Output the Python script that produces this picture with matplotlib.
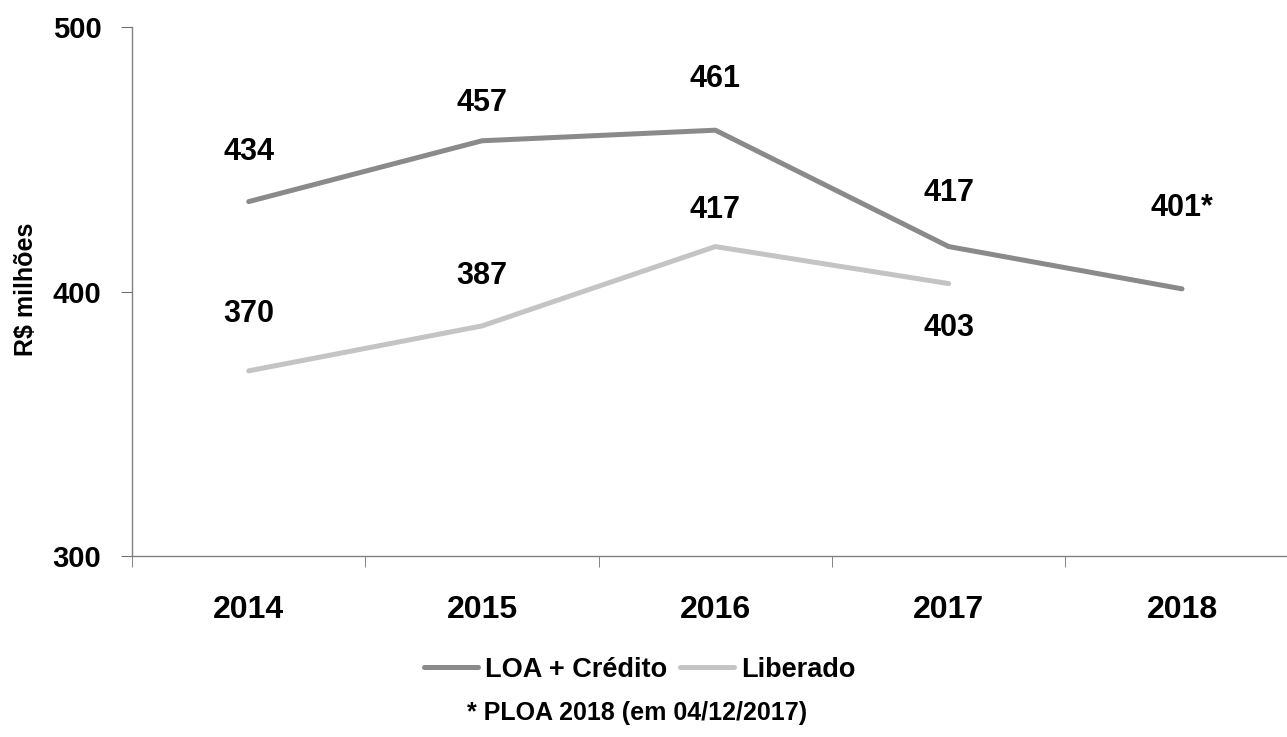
import matplotlib
matplotlib.use('Agg')
from matplotlib import pyplot as plt
from matplotlib.ticker import FixedLocator

# data
years = ['2014', '2015', '2016', '2017', '2018']
loaCredito = [434, 457, 461, 417, 401]
liberado = [370, 387, 417, 403]
loaLabels = ['434', '457', '461', '417', '401*']
libLabels = ['370', '387', '417', '403']

plt.rcParams['font.family'] = ['Liberation Sans Narrow', 'Liberation Sans', 'DejaVu Sans']
plt.rcParams['font.weight'] = 'bold'

fig = plt.figure(figsize=(12.87, 7.37), dpi=100)
ax = fig.add_axes([0.1026, 0.2456, 0.8974, 0.7177])

x = list(range(len(years)))
ax.plot(x, loaCredito, color='#8a8a8a', lw=3.6, solid_capstyle='round', label='LOA + Crédito')
ax.plot(x[:len(liberado)], liberado, color='#c4c4c4', lw=3.6, solid_capstyle='round', label='Liberado')

loaOffsets = [50, 38, 51, 54, 81]
libOffsets = [57, 50, 37, -44]
for i, (v, lab) in enumerate(zip(loaCredito, loaLabels)):
    ax.annotate(lab, (i, v), xytext=(0, loaOffsets[i]), textcoords='offset pixels',
                ha='center', va='center', fontsize=22, fontweight='bold')
for i, (v, lab) in enumerate(zip(liberado, libLabels)):
    ax.annotate(lab, (i, v), xytext=(0, libOffsets[i]), textcoords='offset pixels',
                ha='center', va='center', fontsize=22, fontweight='bold')

ax.set_xlim(-0.5, 4.45)
ax.set_ylim(300, 500)
ax.set_yticks([300, 400, 500])
ax.set_xticks(x)
ax.set_xticklabels(years)
ax.xaxis.set_minor_locator(FixedLocator([-0.5, 0.5, 1.5, 2.5, 3.5]))
ax.tick_params(axis='x', which='major', length=0, pad=28, labelsize=23)
ax.tick_params(axis='x', which='minor', length=8, color='#707070', direction='out')
ax.tick_params(axis='y', which='major', length=8, color='#707070', labelsize=21, pad=14)
for lab in ax.get_xticklabels() + ax.get_yticklabels():
    lab.set_fontweight('bold')

for s in ['top', 'right']:
    ax.spines[s].set_visible(False)
for s in ['left', 'bottom']:
    ax.spines[s].set_color('#808080')
    ax.spines[s].set_linewidth(1)

ax.set_ylabel('R$ milhões', fontsize=18, fontweight='bold')
ax.yaxis.set_label_coords(-0.081, 0.505)

fig.legend(loc='center', bbox_to_anchor=(0.497, 0.091), ncol=2, frameon=False,
           handlelength=2.0, handletextpad=0.25, columnspacing=0.5,
           prop={'weight': 'bold', 'size': 19.5})
fig.text(0.495, 0.033, '* PLOA 2018 (em 04/12/2017)', ha='center', va='center',
         fontsize=18, fontweight='bold')

fig.savefig('out.png', dpi=100)
